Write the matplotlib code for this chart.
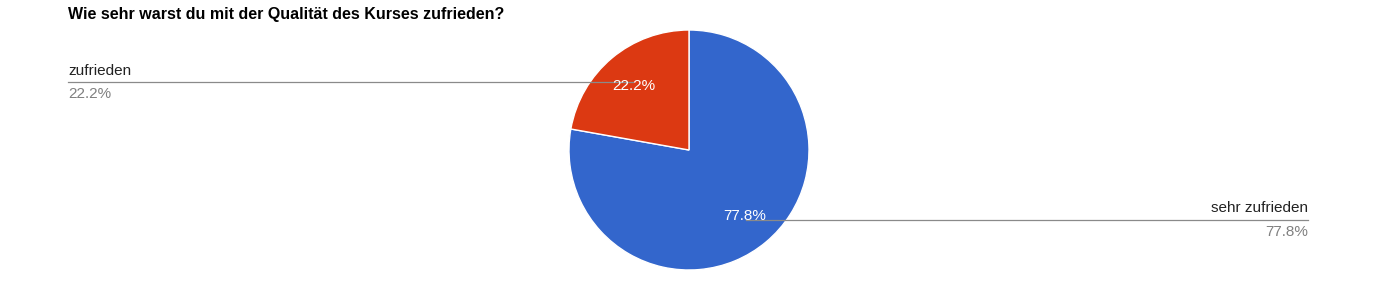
import matplotlib.pyplot as plt
import numpy as np

plt.rcParams['font.family'] = ['Liberation Sans', 'DejaVu Sans']

# --- data ---
title = "Wie sehr warst du mit der Qualität des Kurses zufrieden?"
labels = ["sehr zufrieden", "zufrieden"]
values = [77.8, 22.2]
colors = ["#3366CC", "#DC3912"]

W, H = 1377, 300
fig = plt.figure(figsize=(W / 100, H / 100), dpi=100)
ax = fig.add_axes([0, 0, 1, 1])

# pie in pixel-like data coords (y up)
cx, cy, r = 689, 150, 120
wedges, texts, autotexts = ax.pie(
    values, colors=colors, startangle=90, counterclock=False,
    center=(cx, cy), radius=r, autopct="%1.1f%%", pctdistance=0.72,
    wedgeprops=dict(edgecolor="white", linewidth=1),
    textprops=dict(color="white", fontsize=11), frame=False)

ax.set_xlim(0, W)
ax.set_ylim(0, H)
ax.set_aspect("equal")
ax.axis("off")

fig.text(68 / W, 1 - 14 / H, title, fontsize=11.5, fontweight="bold",
         ha="left", va="center", color="#000000")

# leader lines + outside labels
line_col = "#8a8a8a"
for lab, val, at in zip(labels, values, autotexts):
    px, py = at.get_position()
    if px < cx:
        x0, x1 = 68, px - 1
        ly = py + 2
        ax.plot([x0, x1], [ly, ly], color=line_col, lw=0.9, zorder=3)
        ax.text(x0, ly + 11, lab, fontsize=11, ha="left", va="center", color="#222222")
        ax.text(x0, ly - 12, f"{val:.1f}%", fontsize=11, ha="left", va="center", color="#808080")
    else:
        x0, x1 = px + 2, 1308
        ly = py - 4
        ax.plot([x0, x1], [ly, ly], color=line_col, lw=0.9, zorder=3)
        ax.text(x1, ly + 12, lab, fontsize=11, ha="right", va="center", color="#222222")
        ax.text(x1, ly - 12, f"{val:.1f}%", fontsize=11, ha="right", va="center", color="#808080")

for at in autotexts:
    at.set_zorder(4)
    x, y = at.get_position()
    if x < cx:
        at.set_position((x, y - 2))

fig.savefig("out.png", dpi=100, facecolor="white")
